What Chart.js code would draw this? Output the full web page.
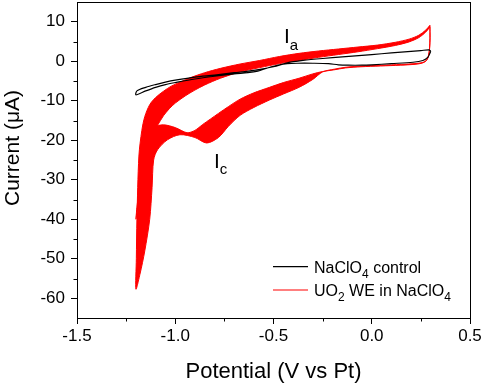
<!DOCTYPE html>
<html>
<head>
<meta charset="utf-8">
<script src="https://cdn.jsdelivr.net/npm/chart.js@4.4.1/dist/chart.umd.min.js"></script>
<style>
  html, body { margin: 0; padding: 0; background: #fff; }
</style>
</head>
<body>
<canvas id="cvChart" width="484" height="386"></canvas>
<script>
const FONT = '"Liberation Sans", Arial, sans-serif';

// NaClO4 control, one loop: cathodic sweep then anodic sweep
const controlCathV = [0.300, 0.296, 0.285, 0.260, 0.210, 0.100, 0.000, -0.050, -0.120, -0.170, -0.220, -0.300, -0.380, -0.430, -0.470, -0.530, -0.580, -0.630, -0.700, -0.800, -0.900, -1.000, -1.050, -1.100, -1.150, -1.200];
const controlCathI = [2.6, 2.0, 1.0, 0.2, -0.25, -0.6, -0.9, -1.0, -1.0, -0.9, -0.6, -0.5, -0.5, -0.6, -0.9, -1.7, -2.5, -2.9, -3.2, -3.8, -4.5, -5.4, -5.9, -6.6, -7.5, -8.5];
const controlAnodV = [-1.195, -1.150, -1.100, -1.050, -1.000, -0.900, -0.800, -0.700, -0.600, -0.500, -0.430, -0.350, -0.250, -0.150, -0.050, 0.050, 0.150, 0.250, 0.290, 0.300];
const controlAnodI = [-7.5, -6.6, -5.9, -5.3, -4.8, -4.0, -3.5, -2.9, -2.3, -1.4, -0.4, 0.2, 0.7, 1.1, 1.5, 1.9, 2.3, 2.7, 2.9, 2.6];

// UO2 WE, outermost cycle (first scan)
const redOuterCathV = [0.296, 0.297, 0.295, 0.290, 0.280, 0.260, 0.220, 0.150, 0.050, -0.050, -0.130, -0.190, -0.250, -0.300, -0.370, -0.450, -0.520, -0.600, -0.670, -0.730, -0.780, -0.840, -0.900, -0.976, -1.040, -1.090, -1.110, -1.118, -1.130, -1.155, -1.180, -1.200];
const redOuterCathI = [9.1, 6.0, 3.5, 1.5, 0.3, -0.3, -0.6, -0.8, -1.0, -1.2, -1.5, -2.0, -2.7, -4.6, -6.6, -8.3, -9.8, -11.7, -13.7, -16.5, -19.3, -20.7, -19.3, -18.6, -19.9, -22.4, -25.0, -32.0, -40.0, -48.0, -54.0, -57.7];
const redOuterAnodV = [-1.198, -1.195, -1.185, -1.170, -1.155, -1.130, -1.100, -1.060, -1.020, -0.976, -0.920, -0.850, -0.770, -0.670, -0.570, -0.470, -0.370, -0.270, -0.170, -0.070, 0.030, 0.120, 0.190, 0.240, 0.275, 0.296];
const redOuterAnodI = [-50, -40, -24, -17.5, -14, -11, -9.2, -7.6, -6.3, -5.3, -4.1, -2.9, -1.8, -0.7, 0.2, 1.2, 2.0, 2.6, 3.1, 3.6, 4.1, 4.8, 5.6, 6.6, 7.9, 9.1];

// UO2 WE, innermost cycle (last scan)
const redInnerCathV = [0.296, 0.296, 0.294, 0.288, 0.277, 0.255, 0.215, 0.145, 0.045, -0.055, -0.135, -0.195, -0.250, -0.300, -0.370, -0.450, -0.520, -0.600, -0.670, -0.730, -0.780, -0.820, -0.860, -0.900, -0.940, -1.000, -1.060, -1.110, -1.135, -1.160, -1.180, -1.195, -1.200];
const redInnerCathI = [8.7, 5.8, 3.3, 1.3, 0.1, -0.5, -0.8, -1.0, -1.2, -1.4, -1.7, -2.2, -2.6, -3.2, -4.3, -5.4, -6.6, -8.0, -9.6, -11.5, -13.2, -14.6, -16.0, -17.5, -18.1, -16.8, -16.1, -16.8, -20.0, -25.0, -31.0, -37.0, -40.0];
const redInnerAnodV = [-1.190, -1.172, -1.150, -1.130, -1.110, -1.090, -1.060, -1.030, -1.000, -0.950, -0.900, -0.850, -0.770, -0.670, -0.570, -0.470, -0.370, -0.270, -0.170, -0.070, 0.030, 0.120, 0.190, 0.240, 0.275, 0.296];
const redInnerAnodI = [-36, -30, -24, -20, -17.6, -16.2, -13.8, -12.0, -10.6, -8.8, -7.3, -6.0, -4.3, -2.7, -1.6, -0.6, 0.2, 1.0, 1.7, 2.4, 3.2, 4.0, 4.9, 6.0, 7.4, 8.7];

const xTicks = [-1.5, -1.0, -0.5, 0.0, 0.5];
const xMinor = [-1.25, -0.75, -0.25, 0.25];
const yTicks = [-60, -50, -40, -30, -20, -10, 0, 10];
const yMinor = [-55, -45, -35, -25, -15, -5, 5];

const yTitle = 'Current (\u03bcA)';
const legendItems = [
    { color: '#000000', parts: [['NaClO'], ['4', true], [' control']] },
    { color: '#ff0000', parts: [['UO'], ['2', true], [' WE in NaClO'], ['4', true]] }
];
const peakLabels = [
    { v: -0.447, i: 4.5, parts: [['I'], ['a', true]] },
    { v: -0.803, i: -27.0, parts: [['I'], ['c', true]] }
];

function toPoints(vs, is) {
    return vs.map((v, k) => ({ x: v, y: is[k] }));
}

const controlLoop = toPoints(controlCathV, controlCathI).concat(toPoints(controlAnodV, controlAnodI));
const redOuter = toPoints(redOuterCathV, redOuterCathI).concat(toPoints(redOuterAnodV, redOuterAnodI));
const redInner = toPoints(redInnerCathV, redInnerCathI).concat(toPoints(redInnerAnodV, redInnerAnodI));
// area swept by all the scans in between
const redBand = redOuter.concat(redInner.slice().reverse());

function drawRich(ctx, parts, x, y, size) {
    ctx.textBaseline = 'alphabetic';
    ctx.textAlign = 'left';
    parts.forEach(([txt, sub]) => {
        const s = sub ? Math.round(size * 0.72) : size;
        ctx.font = s + 'px ' + FONT;
        ctx.fillText(txt, x, sub ? y + size * 0.3 : y);
        x += ctx.measureText(txt).width;
    });
}

const extras = {
    id: 'extras',
    afterDraw(chart) {
        const ctx = chart.ctx;
        const a = chart.chartArea;
        const xs = chart.scales.x;
        const ys = chart.scales.y;
        ctx.save();
        ctx.strokeStyle = '#000';
        ctx.lineWidth = 1;
        ctx.strokeRect(Math.round(a.left) + 0.5, Math.round(a.top) + 0.5,
            Math.round(a.right - a.left), Math.round(a.bottom - a.top));

        // minor ticks
        ctx.beginPath();
        xMinor.forEach(v => {
            const p = Math.round(xs.getPixelForValue(v)) + 0.5;
            ctx.moveTo(p, a.bottom);
            ctx.lineTo(p, a.bottom + 3.5);
        });
        yMinor.forEach(v => {
            const p = Math.round(ys.getPixelForValue(v)) + 0.5;
            ctx.moveTo(a.left, p);
            ctx.lineTo(a.left - 3.5, p);
        });
        ctx.stroke();

        // y axis title, sits a little above the middle of the axis
        ctx.save();
        ctx.translate(13, a.top + 146);
        ctx.rotate(-Math.PI / 2);
        ctx.fillStyle = '#000';
        ctx.font = '21px ' + FONT;
        ctx.textAlign = 'center';
        ctx.textBaseline = 'middle';
        ctx.fillText(yTitle, 0, 0);
        ctx.restore();

        // legend
        legendItems.forEach((item, k) => {
            const y = a.top + 264.7 + k * 23.3;
            ctx.strokeStyle = item.color;
            ctx.lineWidth = 1.2;
            ctx.beginPath();
            ctx.moveTo(a.left + 196, y);
            ctx.lineTo(a.left + 231, y);
            ctx.stroke();
            ctx.fillStyle = '#000';
            drawRich(ctx, item.parts, a.left + 237, y + 6.4, 16);
        });

        // peak labels
        ctx.fillStyle = '#000';
        peakLabels.forEach(lb => {
            drawRich(ctx, lb.parts, xs.getPixelForValue(lb.v), ys.getPixelForValue(lb.i), 21);
        });
        ctx.restore();
    }
};

const ctxCv = document.getElementById('cvChart').getContext('2d');

new Chart(ctxCv, {
    type: 'line',
    data: {
        datasets: [{
            label: 'NaClO4 control',
            data: controlLoop,
            borderColor: '#000000',
            borderWidth: 1.2,
            fill: false
        }, {
            label: 'UO2 WE in NaClO4',
            data: redOuter,
            borderColor: '#ff0000',
            borderWidth: 1,
            fill: false
        }, {
            label: 'last scan',
            data: redInner,
            borderColor: '#ff0000',
            borderWidth: 1,
            fill: false
        }, {
            label: 'scans',
            data: redBand,
            borderColor: 'rgba(0, 0, 0, 0)',
            borderWidth: 1,
            backgroundColor: '#ff0000',
            fill: 'shape'
        }]
    },
    options: {
        responsive: false,
        animation: false,
        layout: {
            padding: { top: 2, right: 14, left: 0, bottom: 0 }
        },
        elements: {
            point: { radius: 0 },
            line: { tension: 0.3, borderJoinStyle: 'round' }
        },
        plugins: {
            legend: { display: false },
            tooltip: { enabled: false }
        },
        scales: {
            x: {
                type: 'linear',
                min: -1.5,
                max: 0.5,
                afterBuildTicks: (s) => { s.ticks = xTicks.map(v => ({ value: v })); },
                afterFit: (s) => { s.height = 68; s.paddingLeft = 0; s.paddingRight = 0; },
                border: { display: false },
                grid: {
                    drawOnChartArea: false,
                    tickLength: 6,
                    color: '#000',
                    tickColor: '#000'
                },
                ticks: {
                    color: '#000',
                    font: { family: FONT, size: 17 },
                    padding: 2,
                    maxRotation: 0,
                    autoSkip: false,
                    callback: (v) => Number(v).toFixed(1)
                },
                title: {
                    display: true,
                    text: 'Potential (V vs Pt)',
                    color: '#000',
                    font: { family: FONT, size: 22 },
                    padding: { top: 0, bottom: 1 }
                }
            },
            y: {
                type: 'linear',
                min: -65,
                max: 15,
                afterBuildTicks: (s) => { s.ticks = yTicks.map(v => ({ value: v })); },
                afterFit: (s) => { s.width = 77; s.paddingTop = 0; s.paddingBottom = 0; },
                border: { display: false },
                grid: {
                    drawOnChartArea: false,
                    tickLength: 6,
                    color: '#000',
                    tickColor: '#000'
                },
                ticks: {
                    color: '#000',
                    font: { family: FONT, size: 17 },
                    padding: 6,
                    autoSkip: false,
                    callback: (v) => String(v)
                }
            }
        }
    },
    plugins: [extras]
});
</script>
</body>
</html>
